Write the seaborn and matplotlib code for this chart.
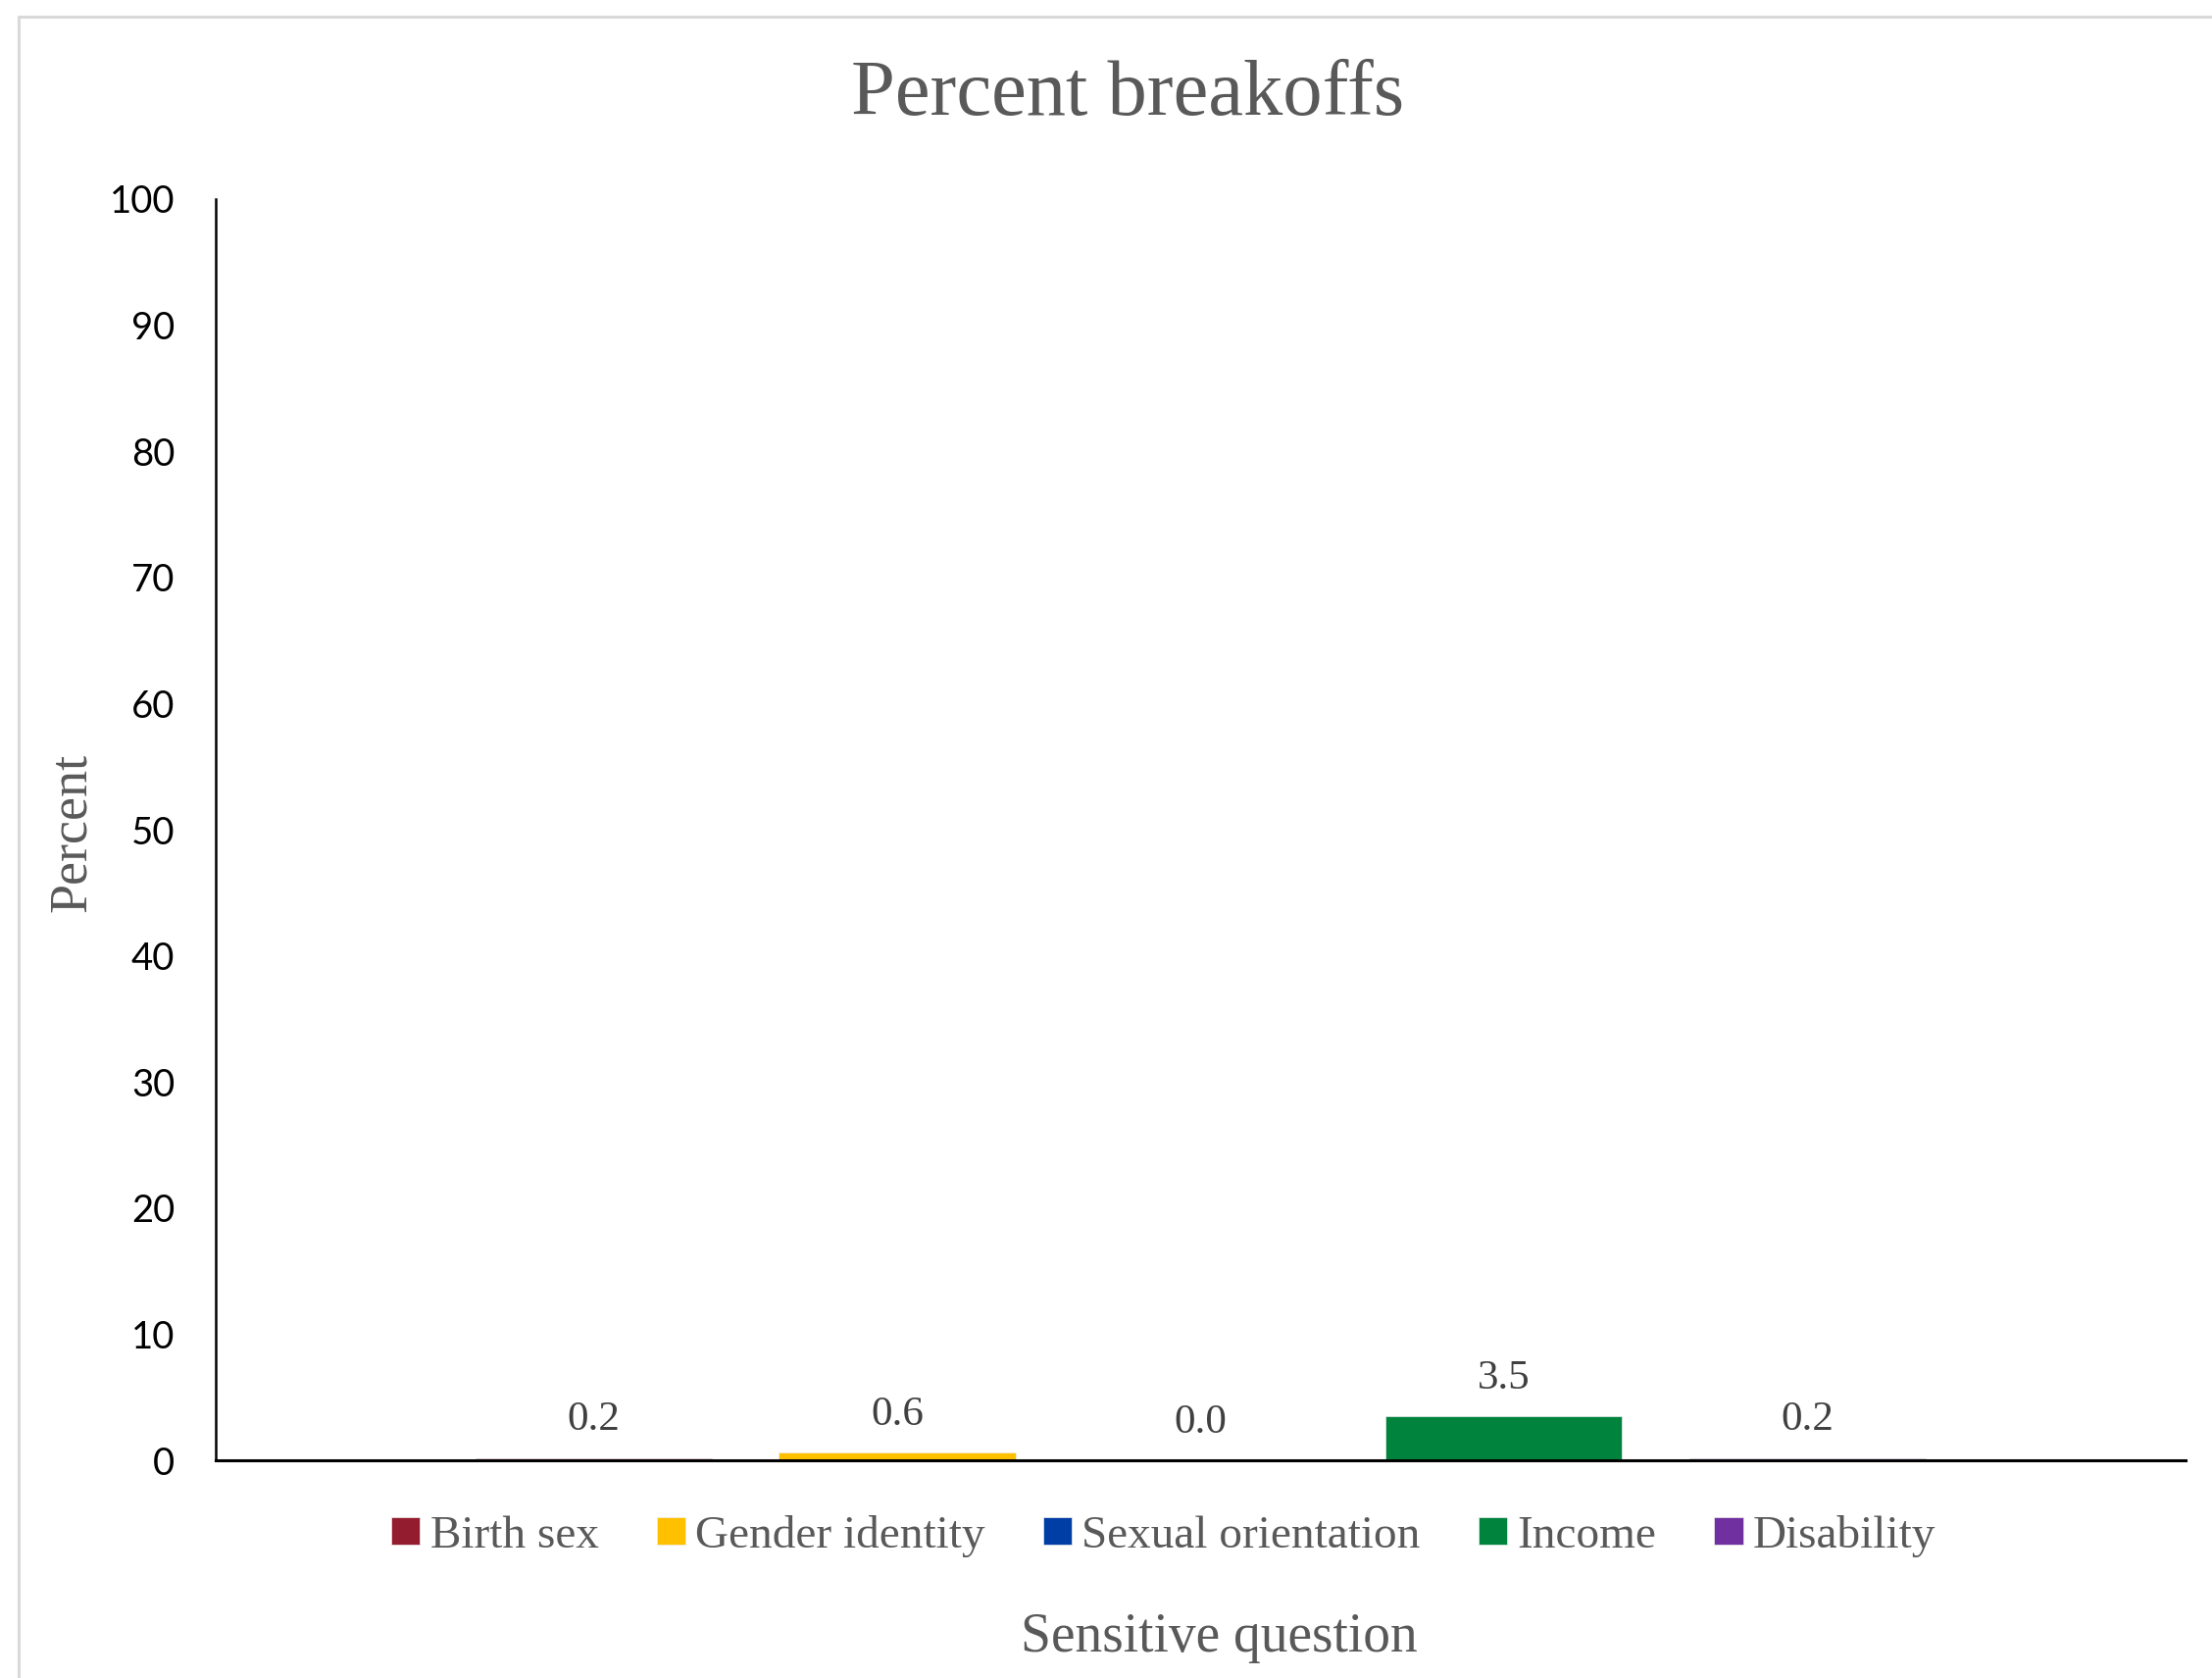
"""
Percent breakoffs by sensitive question - bar chart
"""
import pandas as pd
import numpy as np
import matplotlib
matplotlib.use("Agg")
import matplotlib.pyplot as plt
import seaborn as sns
from matplotlib.patches import Rectangle

# Data
questions = ["Birth sex", "Gender identity", "Sexual orientation", "Income", "Disability"]
breakoff_pct = [0.2, 0.6, 0.0, 3.5, 0.2]
bar_colors = ["#941C2F", "#FFC000", "#003DA5", "#00843D", "#7030A0"]
y_ticks = [0, 10, 20, 30, 40, 50, 60, 70, 80, 90, 100]

sns.set_style("white")
plt.rcParams['font.family'] = ['Liberation Serif', 'DejaVu Serif']

df = pd.DataFrame({
    "groupe": [""] * len(questions),
    "question": questions,
    "pct": breakoff_pct,
})

fig = plt.figure(figsize=(22.56, 17.11), dpi=100)
ax = fig.add_axes([0.0975, 0.1297, 0.8905, 0.7517])

sns.barplot(data=df, x="groupe", y="pct", hue="question",
            hue_order=questions, palette=bar_colors,
            width=0.77, gap=0.22, errorbar=None,
            edgecolor="#EDEDED", linewidth=0.5, saturation=1, ax=ax)

# Valeurs au-dessus des barres
for cont in ax.containers:
    ax.bar_label(cont, fmt="%.1f", padding=14, fontsize=31,
                 color="#404040", family="Liberation Serif")

ax.set_xlim(-0.5, 0.5)
ax.set_ylim(0, 100)
ax.set_yticks(y_ticks)
ax.set_yticklabels([str(t) for t in y_ticks], fontsize=27.5, family="Lato",
                   color="black")
ax.set_xticks([])
ax.tick_params(axis="y", length=0, pad=30)

for s in ["top", "right"]:
    ax.spines[s].set_visible(False)
ax.spines["left"].set_color("black")
ax.spines["left"].set_linewidth(1.8)
ax.spines["bottom"].set_color("black")
ax.spines["bottom"].set_linewidth(2.2)

ax.set_xlabel("")
ax.set_ylabel("")

# Titre et libellés des axes
fig.text(0.510, 0.943, "Percent breakoffs", ha="center", va="center",
         fontsize=58, color="#595959")
fig.text(0.551, 0.024, "Sensitive question", ha="center", va="center",
         fontsize=40, color="#595959")
fig.text(0.0325, 0.504, "Percent", ha="center", va="center", rotation=90,
         fontsize=39, color="#595959")

# Légende en bas
handles, labels = ax.get_legend_handles_labels()
if ax.legend_ is not None:
    ax.legend_.remove()
fig.legend(handles, labels, loc="center", bbox_to_anchor=(0.526, 0.0845),
           ncol=5, frameon=False, fontsize=34, labelcolor="#595959",
           handlelength=0.62, handleheight=0.55, handletextpad=0.22,
           columnspacing=1.25)

# Bordure de la zone de graphique
fig.patches.append(Rectangle((0.0086, -0.1), 1.2, 1.09, transform=fig.transFigure,
                             fill=False, edgecolor="#D9D9D9", linewidth=2.2))

fig.savefig("out.png", dpi=100)
